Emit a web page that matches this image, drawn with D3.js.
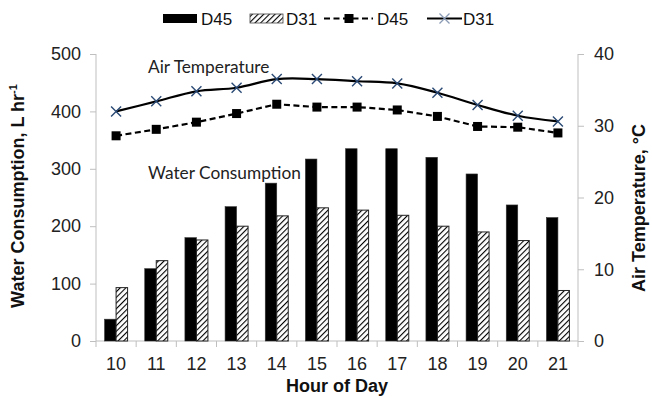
<!DOCTYPE html>
<html>
<head>
<meta charset="utf-8">
<script src="https://cdn.jsdelivr.net/npm/d3@7/dist/d3.min.js"></script>
<style>
  html, body { margin: 0; padding: 0; background: #fff; }
  svg { display: block; }
</style>
</head>
<body>
<svg id="chart" width="652" height="398"></svg>
<script>
// ---- data ----
const hours = ["10","11","12","13","14","15","16","17","18","19","20","21"];
const waterD45 = [38, 126, 180, 234, 275, 317, 335, 335, 320, 291, 237, 215];
const waterD31 = [93, 140, 176, 200, 218, 232, 228, 219, 200, 190, 175, 88];
const tempD45 = [28.6, 29.5, 30.5, 31.7, 33.0, 32.6, 32.6, 32.2, 31.3, 29.9, 29.8, 29.0];
const tempD31 = [32.0, 33.4, 34.8, 35.3, 36.5, 36.5, 36.2, 35.9, 34.6, 32.9, 31.4, 30.6];
const leftTicks = [0, 100, 200, 300, 400, 500];
const rightTicks = [0, 10, 20, 30, 40];

// ---- layout ----
const svg = d3.select("#chart");
const pL = 96, pR = 578, pT = 54, pB = 341;
const axisColor = "#BFBFBF";
const tickFont = "Liberation Sans, Arial, Helvetica, sans-serif";

const x = d3.scaleBand().domain(hours).range([pL, pR]).paddingInner(0).paddingOuter(0);
const yL = d3.scaleLinear().domain([0, 500]).range([pB, pT]);
const yR = d3.scaleLinear().domain([0, 40]).range([pB, pT]);

// hatch pattern
const defs = svg.append("defs");
const pat = defs.append("pattern")
  .attr("id", "hatch").attr("patternUnits", "userSpaceOnUse")
  .attr("width", 4).attr("height", 4)
  .attr("patternTransform", "rotate(45)");
pat.append("rect").attr("width", 4).attr("height", 4).attr("fill", "#fff");
pat.append("line").attr("x1", 0).attr("y1", 0).attr("x2", 0).attr("y2", 4)
  .attr("stroke", "#000").attr("stroke-width", 2.2);

// ---- axes ----
const gL = svg.append("g").attr("transform", `translate(${pL},0)`)
  .call(d3.axisLeft(yL).tickValues(leftTicks).tickSize(6).tickPadding(9));
const gR = svg.append("g").attr("transform", `translate(${pR},0)`)
  .call(d3.axisRight(yR).tickValues(rightTicks).tickSize(6).tickPadding(10));
const gX = svg.append("g").attr("transform", `translate(0,${pB})`)
  .call(d3.axisBottom(x).tickSize(0).tickPadding(16));

[gL, gR, gX].forEach(g => {
  g.attr("font-family", tickFont).attr("font-size", 18);
  g.select(".domain").attr("stroke", axisColor).attr("stroke-width", 1);
  g.selectAll(".tick line").attr("stroke", axisColor);
  g.selectAll("text").attr("fill", "#222");
});
gL.select(".domain").attr("d", `M0,${pT}V${pB}`);
gR.select(".domain").attr("d", `M0,${pT}V${pB}`);
gX.select(".domain").attr("d", `M${pL},0H${pR}`);

// category boundary ticks on x axis
const bounds = hours.map(h => x(h)).concat([pR]);
gX.selectAll(".bt").data(bounds).enter().append("line")
  .attr("x1", d => d).attr("x2", d => d).attr("y1", 0).attr("y2", 6)
  .attr("stroke", axisColor);

// ---- bars ----
const bw = 11.5;
const bars = svg.append("g");
bars.selectAll(".b45").data(waterD45).enter().append("rect")
  .attr("x", (d, i) => x(hours[i]) + x.bandwidth() / 2 - bw)
  .attr("y", d => yL(d)).attr("width", bw).attr("height", d => yL(0) - yL(d))
  .attr("fill", "#000").attr("stroke", "#333").attr("stroke-width", 0.6);
bars.selectAll(".b31").data(waterD31).enter().append("rect")
  .attr("x", (d, i) => x(hours[i]) + x.bandwidth() / 2)
  .attr("y", d => yL(d)).attr("width", bw).attr("height", d => yL(0) - yL(d))
  .attr("fill", "url(#hatch)").attr("stroke", "#222").attr("stroke-width", 1);

// ---- lines ----
const cx = i => x(hours[i]) + x.bandwidth() / 2;
const lineD45 = d3.line().x((d, i) => cx(i)).y(d => yR(d)).curve(d3.curveLinear);
const lineD31 = d3.line().x((d, i) => cx(i)).y(d => yR(d)).curve(d3.curveCatmullRom.alpha(0.5));

svg.append("path").attr("d", lineD45(tempD45)).attr("fill", "none")
  .attr("stroke", "#000").attr("stroke-width", 2.2).attr("stroke-dasharray", "6,3.5");
svg.append("path").attr("d", lineD31(tempD31)).attr("fill", "none")
  .attr("stroke", "#000").attr("stroke-width", 2.2);

const ms = 9;
svg.selectAll(".sq").data(tempD45).enter().append("rect")
  .attr("x", (d, i) => cx(i) - ms / 2).attr("y", d => yR(d) - ms / 2)
  .attr("width", ms).attr("height", ms).attr("fill", "#000");

const xs = 5;
const markColor = "#2B4A75";
const xm = svg.append("g");
tempD31.forEach((d, i) => {
  const px = cx(i), py = yR(d);
  xm.append("path")
    .attr("d", `M${px - xs},${py - xs}L${px + xs},${py + xs}M${px - xs},${py + xs}L${px + xs},${py - xs}`)
    .attr("stroke", markColor).attr("stroke-width", 1.4).attr("fill", "none");
});

// ---- annotations ----
const annFont = "Lato, 'Open Sans', sans-serif";
svg.append("text").attr("x", 148).attr("y", 72.5).text("Air Temperature")
  .attr("font-family", annFont).attr("font-size", 17.3).attr("fill", "#222");
svg.append("text").attr("x", 148).attr("y", 178.5).text("Water Consumption")
  .attr("font-family", annFont).attr("font-size", 17.3).attr("fill", "#222");

// ---- axis titles ----
const titleStyle = sel => sel.attr("font-family", tickFont).attr("font-size", 18)
  .attr("font-weight", "bold").attr("fill", "#111").attr("text-anchor", "middle");

const lt = svg.append("text").attr("transform", "translate(24,196) rotate(-90)").call(titleStyle);
lt.append("tspan").text("Water Consumption, L hr");
lt.append("tspan").attr("dy", -7).attr("font-size", 11).text("-1");

svg.append("text").attr("transform", "translate(645,208) rotate(-90)").call(titleStyle)
  .text("Air Temperature, °C");

svg.append("text").attr("x", (pL + pR) / 2).attr("y", 392).call(titleStyle).text("Hour of Day");

// ---- legend ----
const lg = svg.append("g");
const lf = sel => sel.attr("font-family", tickFont).attr("font-size", 17).attr("fill", "#111");
const ly = 18.5;
lg.append("rect").attr("x", 163).attr("y", ly - 4.5).attr("width", 34).attr("height", 9).attr("fill", "#000");
lg.append("text").attr("x", 201).attr("y", ly + 6).text("D45").call(lf);
lg.append("rect").attr("x", 250).attr("y", ly - 4.5).attr("width", 33).attr("height", 9)
  .attr("fill", "url(#hatch)").attr("stroke", "#444").attr("stroke-width", 0.8);
lg.append("text").attr("x", 286).attr("y", ly + 6).text("D31").call(lf);
lg.append("line").attr("x1", 324).attr("x2", 373).attr("y1", ly).attr("y2", ly)
  .attr("stroke", "#000").attr("stroke-width", 2.2).attr("stroke-dasharray", "6,3.5");
lg.append("rect").attr("x", 344.5).attr("y", ly - 4.5).attr("width", 9).attr("height", 9).attr("fill", "#000");
lg.append("text").attr("x", 377).attr("y", ly + 6).text("D45").call(lf);
lg.append("line").attr("x1", 427).attr("x2", 462).attr("y1", ly).attr("y2", ly)
  .attr("stroke", "#000").attr("stroke-width", 2.2);
lg.append("path").attr("d", `M${444.5 - 5},${ly - 5}L${444.5 + 5},${ly + 5}M${444.5 - 5},${ly + 5}L${444.5 + 5},${ly - 5}`)
  .attr("stroke", "#8A9BB5").attr("stroke-width", 1.3);
lg.append("text").attr("x", 463).attr("y", ly + 6).text("D31").call(lf);
</script>
</body>
</html>
